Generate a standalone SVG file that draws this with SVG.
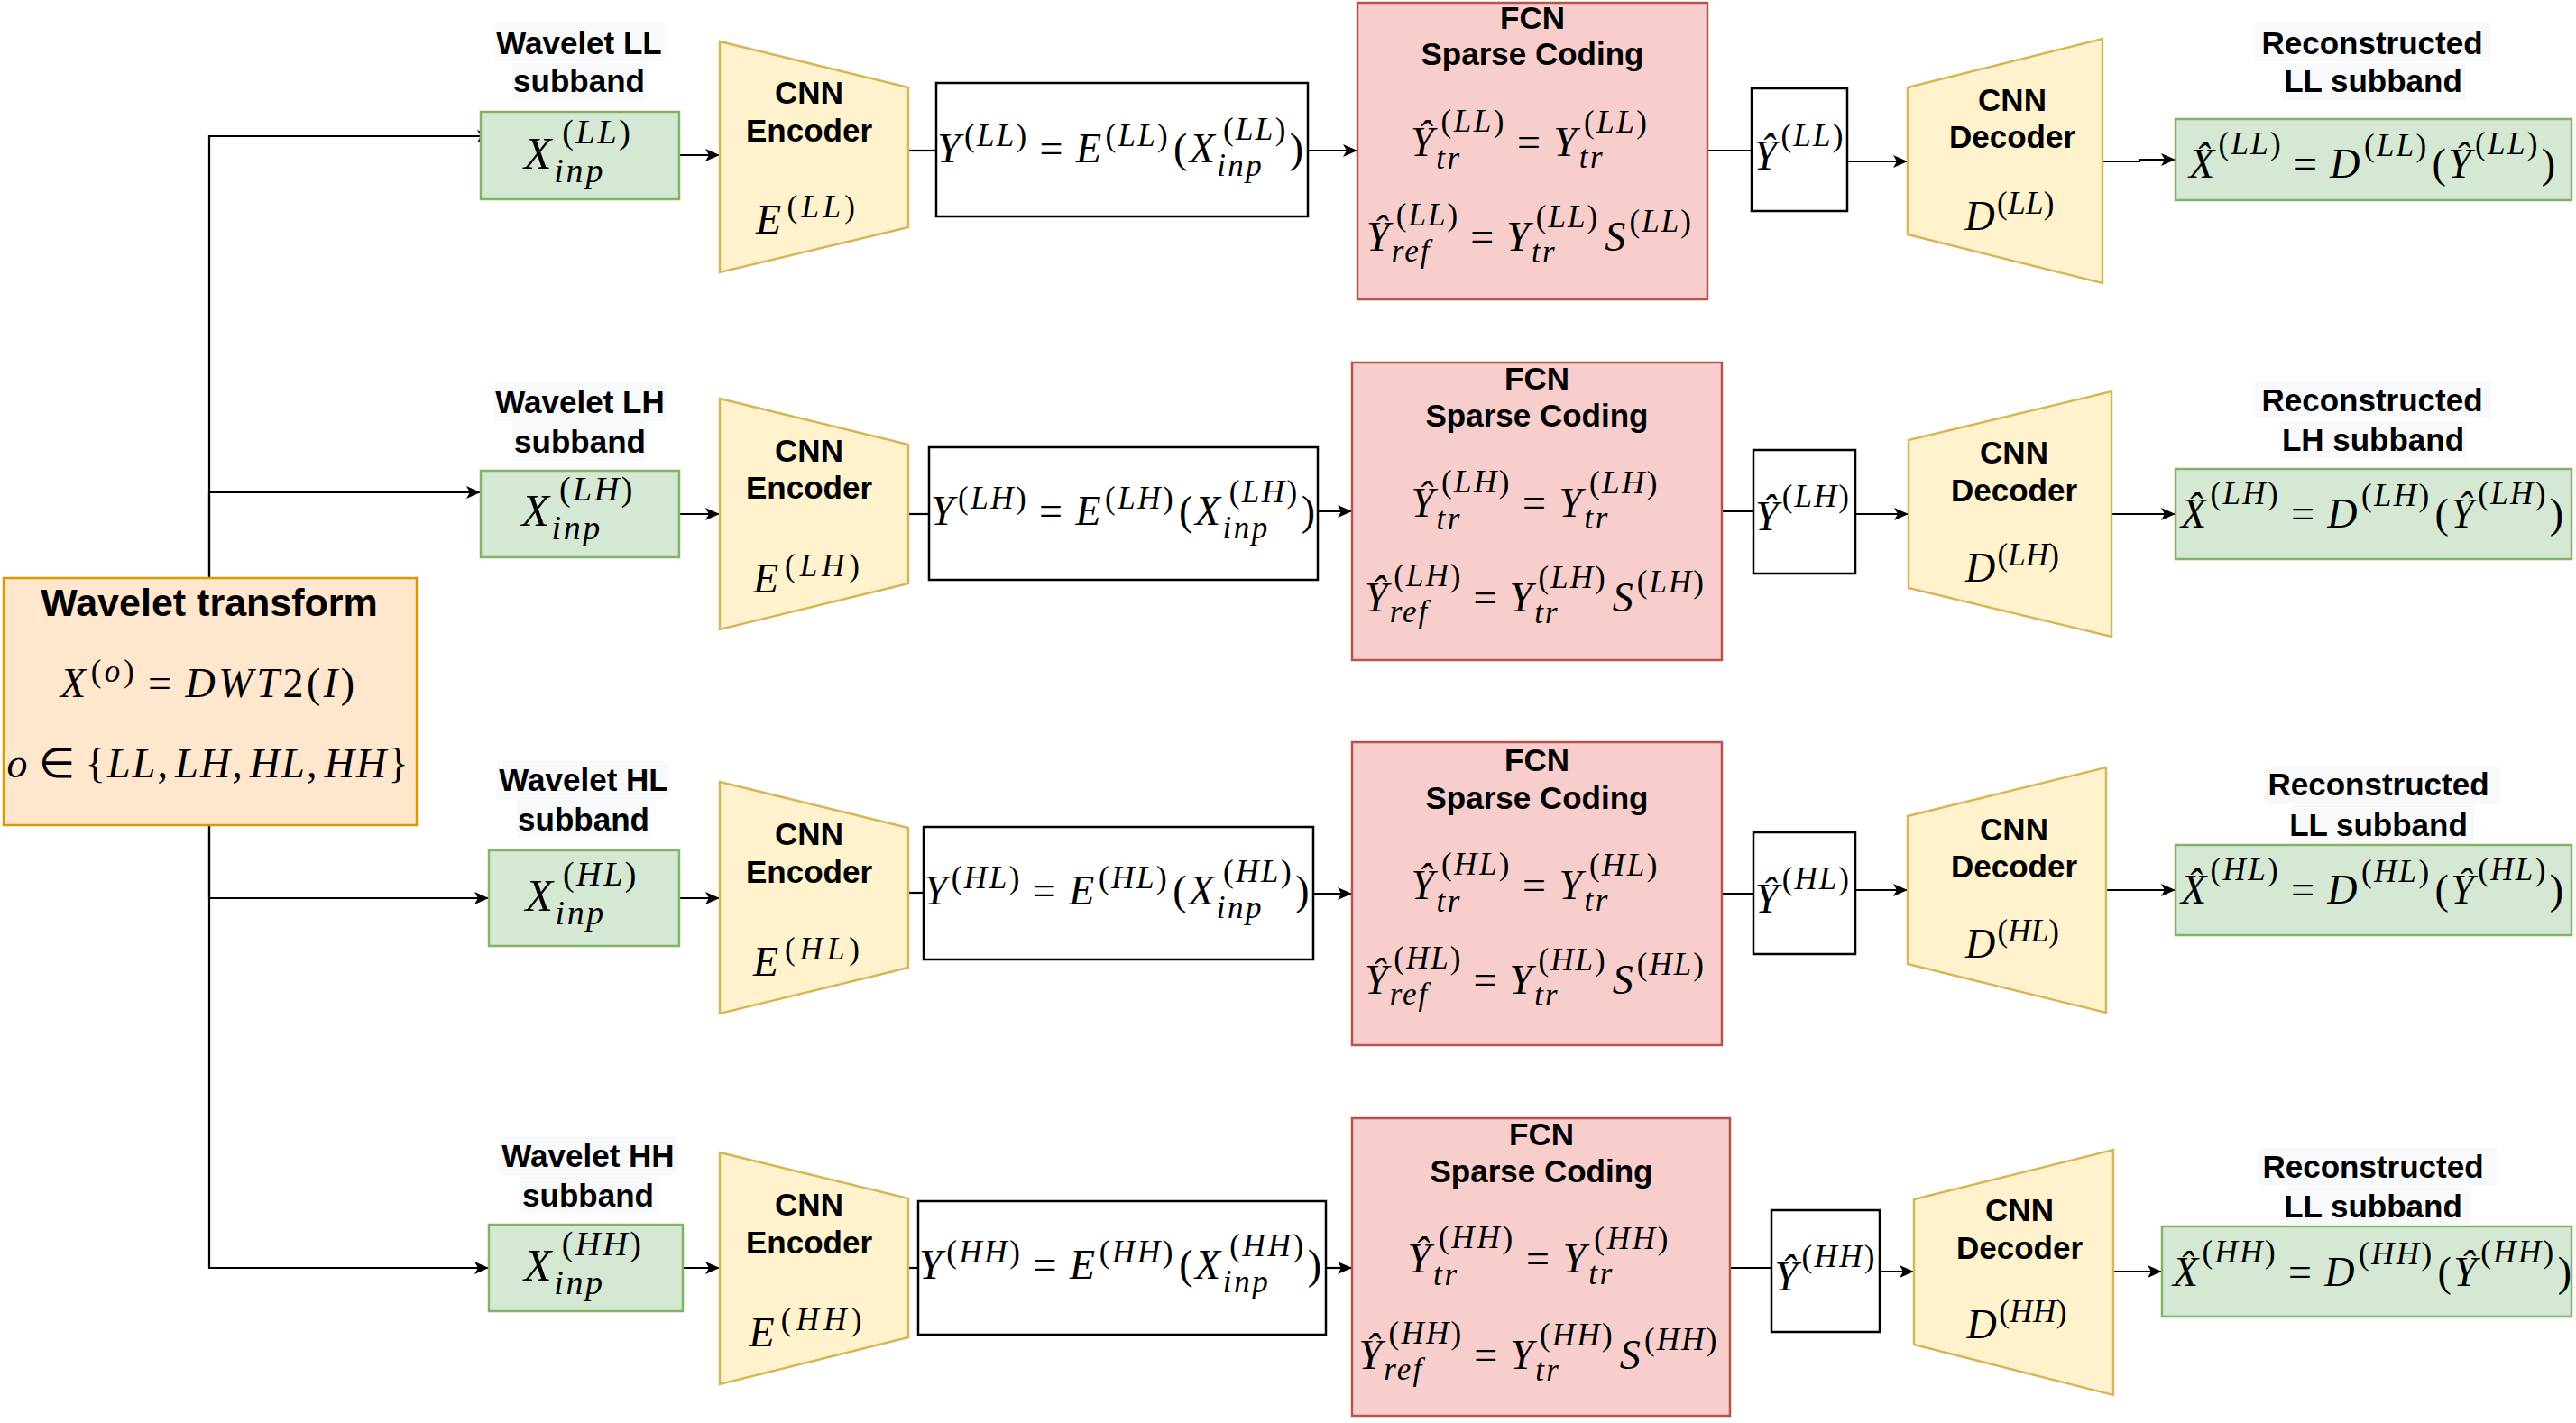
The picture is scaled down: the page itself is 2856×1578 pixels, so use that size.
<svg xmlns="http://www.w3.org/2000/svg" width="2856" height="1578" viewBox="0 0 2856 1578">
<defs>
<marker id="arr" markerUnits="userSpaceOnUse" markerWidth="18" markerHeight="16" refX="16" refY="7" orient="auto"><path d="M0,0 L16,7 L0,14 L4,7 Z" fill="#000"/></marker>
<style>
.conn{fill:none;stroke:#000;stroke-width:2.2}
.arrow{marker-end:url(#arr)}
.g{fill:#d5e8d4;stroke:#82b366;stroke-width:2.5}
.y{fill:#fff2cc;stroke:#d6b656;stroke-width:2.5}
.r{fill:#f8cecc;stroke:#b85450;stroke-width:2.5}
.o{fill:#ffe6cc;stroke:#d79b00;stroke-width:2.5}
.w{fill:#fff;stroke:#000;stroke-width:2.5}
.bg{fill:#f8f9fa}
.b{font-family:"Liberation Sans",Arial,sans-serif;font-weight:bold;font-size:35px;fill:#000;text-anchor:middle}
.t{font-size:43px}
.m{font-family:"Liberation Serif","Times New Roman",serif;font-size:46px;fill:#000;text-anchor:middle}
.mb{font-size:50px}
.i{font-style:italic}
.s{font-size:35px}
.sb{font-size:38px}
</style>
</defs>
<rect x="0" y="0" width="2856" height="1578" fill="#fff"/>

<g id="connectors" class="conn">
<path class="arrow" d="M232,641 V151 H545"/>
<path class="arrow" d="M232,641 V546 H533"/>
<path class="arrow" d="M232,915 V996 H542"/>
<path class="arrow" d="M232,915 V1406 H542"/>
<path class="arrow" d="M753,172 H798"/>
<path class="arrow" d="M753,570 H798"/>
<path class="arrow" d="M753,996 H798"/>
<path class="arrow" d="M757,1406 H798"/>
<path d="M1007,167 H1038"/>
<path d="M1007,570 H1030"/>
<path d="M1007,990 H1024"/>
<path d="M1007,1406 H1018"/>
<path class="arrow" d="M1450,167 H1505"/>
<path class="arrow" d="M1461,567 H1499"/>
<path class="arrow" d="M1456,991 H1499"/>
<path class="arrow" d="M1470,1406 H1499"/>
<path d="M1893,167 H1942"/>
<path d="M1909,567 H1944"/>
<path d="M1909,991 H1944"/>
<path d="M1918,1406 H1964"/>
<path class="arrow" d="M2048,179 H2115"/>
<path class="arrow" d="M2057,570 H2116"/>
<path class="arrow" d="M2057,987 H2115"/>
<path class="arrow" d="M2084,1410 H2122"/>
<path class="arrow" d="M2331,179 H2372 V177 H2412"/>
<path class="arrow" d="M2341,570 H2412"/>
<path class="arrow" d="M2335,987 H2412"/>
<path class="arrow" d="M2343,1410 H2397"/>
</g>

<g id="wavelet-transform">
<rect class="o" x="4" y="641" width="458" height="274"/>
<text class="b t" x="232" y="683">Wavelet transform</text>
<text class="m" x="230" y="773" textLength="326" lengthAdjust="spacing"><tspan class="i">X</tspan><tspan class="s" dx="2" dy="-17">(<tspan class="i">o</tspan>)</tspan><tspan dx="12" dy="17">=</tspan><tspan class="i" dx="12">DWT</tspan><tspan>2(</tspan><tspan class="i">I</tspan><tspan>)</tspan></text>
<text class="m" x="230" y="862" textLength="445" lengthAdjust="spacing"><tspan class="i">o</tspan><tspan dx="10">∈</tspan><tspan dx="10">{</tspan><tspan class="i">LL</tspan><tspan>,</tspan><tspan class="i" dx="6">LH</tspan><tspan>,</tspan><tspan class="i" dx="6">HL</tspan><tspan>,</tspan><tspan class="i" dx="6">HH</tspan><tspan>}</tspan></text>
</g>

<!-- Row LL -->
<g id="label-wavelet-ll"><rect class="bg" x="549" y="26" width="188" height="42"/><rect class="bg" x="568" y="70" width="149" height="41"/><text class="b" x="642" y="60">Wavelet LL</text><text class="b" x="642" y="102">subband</text></g>
<g id="input-ll"><rect class="g" x="533" y="124" width="220" height="97"/><text class="m mb" x="640" y="187" textLength="118" lengthAdjust="spacing"><tspan class="i">X</tspan><tspan class="sb i" dy="15">inp</tspan><tspan class="sb" dx="-48" dy="-43">(<tspan class="i">LL</tspan>)</tspan></text></g>
<g id="encoder-ll"><polygon class="y" points="798,46 1007,97 1007,252 798,302"/><text class="b" x="897" y="115">CNN</text><text class="b" x="897" y="157">Encoder</text><text class="m" x="893" y="259" textLength="110" lengthAdjust="spacing"><tspan class="i">E</tspan><tspan class="s" dx="2" dy="-18">(<tspan class="i">LL</tspan>)</tspan></text></g>
<g id="latent-ll"><rect class="w" x="1038" y="92" width="412" height="148"/><text class="m" x="1242" y="180" textLength="406" lengthAdjust="spacing"><tspan class="i">Y</tspan><tspan class="s" dx="2" dy="-18">(<tspan class="i">LL</tspan>)</tspan><tspan dx="12" dy="18">=</tspan><tspan class="i" dx="12">E</tspan><tspan class="s" dx="2" dy="-18">(<tspan class="i">LL</tspan>)</tspan><tspan dx="4" dy="18">(</tspan><tspan class="i">X</tspan><tspan class="s i" dy="15">inp</tspan><tspan class="s" dx="-45" dy="-40">(<tspan class="i">LL</tspan>)</tspan><tspan dx="2" dy="25">)</tspan></text></g>
<g id="fcn-ll"><rect class="r" x="1505" y="3" width="388" height="329"/><text class="b" x="1699" y="32">FCN</text><text class="b" x="1699" y="72">Sparse Coding</text><text class="m" x="1695" y="173" textLength="262" lengthAdjust="spacing"><tspan class="i">Ŷ</tspan><tspan class="s i" dy="14">tr</tspan><tspan class="s" dx="-23" dy="-41">(<tspan class="i">LL</tspan>)</tspan><tspan dx="12" dy="27">=</tspan><tspan class="i" dx="12">Y</tspan><tspan class="s i" dy="13">tr</tspan><tspan class="s" dx="-23" dy="-39">(<tspan class="i">LL</tspan>)</tspan></text><text class="m" x="1695" y="278" textLength="360" lengthAdjust="spacing"><tspan class="i">Ŷ</tspan><tspan class="s i" dy="12">ref</tspan><tspan class="s" dx="-39" dy="-40">(<tspan class="i">LL</tspan>)</tspan><tspan dx="12" dy="28">=</tspan><tspan class="i" dx="12">Y</tspan><tspan class="s i" dy="13">tr</tspan><tspan class="s" dx="-23" dy="-39">(<tspan class="i">LL</tspan>)</tspan><tspan class="i" dx="6" dy="26">S</tspan><tspan class="s" dx="2" dy="-21">(<tspan class="i">LL</tspan>)</tspan></text></g>
<g id="yhat-ll"><rect class="w" x="1942" y="98" width="106" height="136"/><text class="m" x="1994" y="188" textLength="99" lengthAdjust="spacing"><tspan class="i">Ŷ</tspan><tspan class="s" dx="2" dy="-26">(<tspan class="i">LL</tspan>)</tspan></text></g>
<g id="decoder-ll"><polygon class="y" points="2115,97 2331,43 2331,314 2115,260"/><text class="b" x="2231" y="123">CNN</text><text class="b" x="2231" y="164">Decoder</text><text class="m" x="2228" y="255" textLength="99" lengthAdjust="spacing"><tspan class="i">D</tspan><tspan class="s" dx="2" dy="-18">(<tspan class="i">LL</tspan>)</tspan></text></g>
<g id="label-recon-ll"><rect class="bg" x="2500" y="26" width="262" height="42"/><rect class="bg" x="2530" y="70" width="204" height="41"/><text class="b" x="2630" y="60">Reconstructed</text><text class="b" x="2631" y="102">LL subband</text></g>
<g id="output-ll"><rect class="g" x="2412" y="132" width="439" height="90"/><text class="m" x="2630" y="197" textLength="406" lengthAdjust="spacing"><tspan class="i">X&#x302;</tspan><tspan class="s" dx="2" dy="-26">(<tspan class="i">LL</tspan>)</tspan><tspan dx="12" dy="26">=</tspan><tspan class="i" dx="12">D</tspan><tspan class="s" dx="2" dy="-24">(<tspan class="i">LL</tspan>)</tspan><tspan dx="4" dy="24">(</tspan><tspan class="i">Ŷ</tspan><tspan class="s" dx="2" dy="-26">(<tspan class="i">LL</tspan>)</tspan><tspan dx="2" dy="26">)</tspan></text></g>

<!-- Row LH -->
<g id="label-wavelet-lh"><rect class="bg" x="547" y="425" width="191" height="42"/><rect class="bg" x="568" y="467" width="149" height="44"/><text class="b" x="643" y="458">Wavelet LH</text><text class="b" x="643" y="502">subband</text></g>
<g id="input-lh"><rect class="g" x="533" y="522" width="220" height="96"/><text class="m mb" x="640" y="583" textLength="123" lengthAdjust="spacing"><tspan class="i">X</tspan><tspan class="sb i" dy="15">inp</tspan><tspan class="sb" dx="-48" dy="-43">(<tspan class="i">LH</tspan>)</tspan></text></g>
<g id="encoder-lh"><polygon class="y" points="798,442 1007,493 1007,647 798,698"/><text class="b" x="897" y="512">CNN</text><text class="b" x="897" y="553">Encoder</text><text class="m" x="894" y="657" textLength="118" lengthAdjust="spacing"><tspan class="i">E</tspan><tspan class="s" dx="2" dy="-18">(<tspan class="i">LH</tspan>)</tspan></text></g>
<g id="latent-lh"><rect class="w" x="1030" y="496" width="431" height="147"/><text class="m" x="1245" y="582" textLength="426" lengthAdjust="spacing"><tspan class="i">Y</tspan><tspan class="s" dx="2" dy="-18">(<tspan class="i">LH</tspan>)</tspan><tspan dx="12" dy="18">=</tspan><tspan class="i" dx="12">E</tspan><tspan class="s" dx="2" dy="-18">(<tspan class="i">LH</tspan>)</tspan><tspan dx="4" dy="18">(</tspan><tspan class="i">X</tspan><tspan class="s i" dy="15">inp</tspan><tspan class="s" dx="-45" dy="-40">(<tspan class="i">LH</tspan>)</tspan><tspan dx="2" dy="25">)</tspan></text></g>
<g id="fcn-lh"><rect class="r" x="1499" y="402" width="410" height="330"/><text class="b" x="1704" y="432">FCN</text><text class="b" x="1704" y="473">Sparse Coding</text><text class="m" x="1701" y="573" textLength="273" lengthAdjust="spacing"><tspan class="i">Ŷ</tspan><tspan class="s i" dy="14">tr</tspan><tspan class="s" dx="-23" dy="-41">(<tspan class="i">LH</tspan>)</tspan><tspan dx="12" dy="27">=</tspan><tspan class="i" dx="12">Y</tspan><tspan class="s i" dy="13">tr</tspan><tspan class="s" dx="-23" dy="-39">(<tspan class="i">LH</tspan>)</tspan></text><text class="m" x="1701" y="678" textLength="376" lengthAdjust="spacing"><tspan class="i">Ŷ</tspan><tspan class="s i" dy="12">ref</tspan><tspan class="s" dx="-39" dy="-40">(<tspan class="i">LH</tspan>)</tspan><tspan dx="12" dy="28">=</tspan><tspan class="i" dx="12">Y</tspan><tspan class="s i" dy="13">tr</tspan><tspan class="s" dx="-23" dy="-39">(<tspan class="i">LH</tspan>)</tspan><tspan class="i" dx="6" dy="26">S</tspan><tspan class="s" dx="2" dy="-21">(<tspan class="i">LH</tspan>)</tspan></text></g>
<g id="yhat-lh"><rect class="w" x="1944" y="499" width="113" height="137"/><text class="m" x="1998" y="588" textLength="104" lengthAdjust="spacing"><tspan class="i">Ŷ</tspan><tspan class="s" dx="2" dy="-26">(<tspan class="i">LH</tspan>)</tspan></text></g>
<g id="decoder-lh"><polygon class="y" points="2116,488 2341,434 2341,706 2116,652"/><text class="b" x="2233" y="514">CNN</text><text class="b" x="2233" y="556">Decoder</text><text class="m" x="2231" y="645" textLength="104" lengthAdjust="spacing"><tspan class="i">D</tspan><tspan class="s" dx="2" dy="-18">(<tspan class="i">LH</tspan>)</tspan></text></g>
<g id="label-recon-lh"><rect class="bg" x="2500" y="423" width="262" height="41"/><rect class="bg" x="2528" y="467" width="207" height="41"/><text class="b" x="2630" y="456">Reconstructed</text><text class="b" x="2631" y="500">LH subband</text></g>
<g id="output-lh"><rect class="g" x="2412" y="520" width="439" height="100"/><text class="m" x="2630" y="585" textLength="424" lengthAdjust="spacing"><tspan class="i">X&#x302;</tspan><tspan class="s" dx="2" dy="-26">(<tspan class="i">LH</tspan>)</tspan><tspan dx="12" dy="26">=</tspan><tspan class="i" dx="12">D</tspan><tspan class="s" dx="2" dy="-24">(<tspan class="i">LH</tspan>)</tspan><tspan dx="4" dy="24">(</tspan><tspan class="i">Ŷ</tspan><tspan class="s" dx="2" dy="-26">(<tspan class="i">LH</tspan>)</tspan><tspan dx="2" dy="26">)</tspan></text></g>

<!-- Row HL -->
<g id="label-wavelet-hl"><rect class="bg" x="551" y="844" width="191" height="42"/><rect class="bg" x="573" y="887" width="147" height="42"/><text class="b" x="647" y="877">Wavelet HL</text><text class="b" x="647" y="921">subband</text></g>
<g id="input-hl"><rect class="g" x="542" y="943" width="211" height="106"/><text class="m mb" x="644" y="1010" textLength="123" lengthAdjust="spacing"><tspan class="i">X</tspan><tspan class="sb i" dy="15">inp</tspan><tspan class="sb" dx="-48" dy="-43">(<tspan class="i">HL</tspan>)</tspan></text></g>
<g id="encoder-hl"><polygon class="y" points="798,867 1007,918 1007,1073 798,1124"/><text class="b" x="897" y="937">CNN</text><text class="b" x="897" y="979">Encoder</text><text class="m" x="894" y="1082" textLength="118" lengthAdjust="spacing"><tspan class="i">E</tspan><tspan class="s" dx="2" dy="-18">(<tspan class="i">HL</tspan>)</tspan></text></g>
<g id="latent-hl"><rect class="w" x="1024" y="917" width="432" height="147"/><text class="m" x="1238" y="1003" textLength="427" lengthAdjust="spacing"><tspan class="i">Y</tspan><tspan class="s" dx="2" dy="-18">(<tspan class="i">HL</tspan>)</tspan><tspan dx="12" dy="18">=</tspan><tspan class="i" dx="12">E</tspan><tspan class="s" dx="2" dy="-18">(<tspan class="i">HL</tspan>)</tspan><tspan dx="4" dy="18">(</tspan><tspan class="i">X</tspan><tspan class="s i" dy="15">inp</tspan><tspan class="s" dx="-45" dy="-40">(<tspan class="i">HL</tspan>)</tspan><tspan dx="2" dy="25">)</tspan></text></g>
<g id="fcn-hl"><rect class="r" x="1499" y="823" width="410" height="336"/><text class="b" x="1704" y="855">FCN</text><text class="b" x="1704" y="897">Sparse Coding</text><text class="m" x="1701" y="997" textLength="273" lengthAdjust="spacing"><tspan class="i">Ŷ</tspan><tspan class="s i" dy="14">tr</tspan><tspan class="s" dx="-23" dy="-41">(<tspan class="i">HL</tspan>)</tspan><tspan dx="12" dy="27">=</tspan><tspan class="i" dx="12">Y</tspan><tspan class="s i" dy="13">tr</tspan><tspan class="s" dx="-23" dy="-39">(<tspan class="i">HL</tspan>)</tspan></text><text class="m" x="1701" y="1102" textLength="376" lengthAdjust="spacing"><tspan class="i">Ŷ</tspan><tspan class="s i" dy="12">ref</tspan><tspan class="s" dx="-39" dy="-40">(<tspan class="i">HL</tspan>)</tspan><tspan dx="12" dy="28">=</tspan><tspan class="i" dx="12">Y</tspan><tspan class="s i" dy="13">tr</tspan><tspan class="s" dx="-23" dy="-39">(<tspan class="i">HL</tspan>)</tspan><tspan class="i" dx="6" dy="26">S</tspan><tspan class="s" dx="2" dy="-21">(<tspan class="i">HL</tspan>)</tspan></text></g>
<g id="yhat-hl"><rect class="w" x="1944" y="923" width="113" height="135"/><text class="m" x="1998" y="1012" textLength="104" lengthAdjust="spacing"><tspan class="i">Ŷ</tspan><tspan class="s" dx="2" dy="-26">(<tspan class="i">HL</tspan>)</tspan></text></g>
<g id="decoder-hl"><polygon class="y" points="2115,905 2335,851 2335,1123 2115,1069"/><text class="b" x="2233" y="932">CNN</text><text class="b" x="2233" y="973">Decoder</text><text class="m" x="2231" y="1062" textLength="104" lengthAdjust="spacing"><tspan class="i">D</tspan><tspan class="s" dx="2" dy="-18">(<tspan class="i">HL</tspan>)</tspan></text></g>
<g id="label-recon-hl"><rect class="bg" x="2511" y="851" width="262" height="41"/><rect class="bg" x="2540" y="893" width="203" height="41"/><text class="b" x="2637" y="882">Reconstructed</text><text class="b" x="2637" y="927">LL subband</text></g>
<g id="output-hl"><rect class="g" x="2412" y="937" width="439" height="100"/><text class="m" x="2630" y="1002" textLength="424" lengthAdjust="spacing"><tspan class="i">X&#x302;</tspan><tspan class="s" dx="2" dy="-26">(<tspan class="i">HL</tspan>)</tspan><tspan dx="12" dy="26">=</tspan><tspan class="i" dx="12">D</tspan><tspan class="s" dx="2" dy="-24">(<tspan class="i">HL</tspan>)</tspan><tspan dx="4" dy="24">(</tspan><tspan class="i">Ŷ</tspan><tspan class="s" dx="2" dy="-26">(<tspan class="i">HL</tspan>)</tspan><tspan dx="2" dy="26">)</tspan></text></g>

<!-- Row HH -->
<g id="label-wavelet-hh"><rect class="bg" x="554" y="1261" width="197" height="42"/><rect class="bg" x="577" y="1305" width="151" height="41"/><text class="b" x="652" y="1294">Wavelet HH</text><text class="b" x="652" y="1338">subband</text></g>
<g id="input-hh"><rect class="g" x="542" y="1358" width="215" height="96"/><text class="m mb" x="646" y="1420" textLength="130" lengthAdjust="spacing"><tspan class="i">X</tspan><tspan class="sb i" dy="15">inp</tspan><tspan class="sb" dx="-48" dy="-43">(<tspan class="i">HH</tspan>)</tspan></text></g>
<g id="encoder-hh"><polygon class="y" points="798,1278 1007,1329 1007,1483 798,1535"/><text class="b" x="897" y="1348">CNN</text><text class="b" x="897" y="1390">Encoder</text><text class="m" x="893" y="1493" textLength="125" lengthAdjust="spacing"><tspan class="i">E</tspan><tspan class="s" dx="2" dy="-18">(<tspan class="i">HH</tspan>)</tspan></text></g>
<g id="latent-hh"><rect class="w" x="1018" y="1332" width="452" height="148"/><text class="m" x="1242" y="1418" textLength="446" lengthAdjust="spacing"><tspan class="i">Y</tspan><tspan class="s" dx="2" dy="-18">(<tspan class="i">HH</tspan>)</tspan><tspan dx="12" dy="18">=</tspan><tspan class="i" dx="12">E</tspan><tspan class="s" dx="2" dy="-18">(<tspan class="i">HH</tspan>)</tspan><tspan dx="4" dy="18">(</tspan><tspan class="i">X</tspan><tspan class="s i" dy="15">inp</tspan><tspan class="s" dx="-45" dy="-40">(<tspan class="i">HH</tspan>)</tspan><tspan dx="2" dy="25">)</tspan></text></g>
<g id="fcn-hh"><rect class="r" x="1499" y="1240" width="419" height="330"/><text class="b" x="1709" y="1270">FCN</text><text class="b" x="1709" y="1311">Sparse Coding</text><text class="m" x="1705" y="1411" textLength="289" lengthAdjust="spacing"><tspan class="i">Ŷ</tspan><tspan class="s i" dy="14">tr</tspan><tspan class="s" dx="-23" dy="-41">(<tspan class="i">HH</tspan>)</tspan><tspan dx="12" dy="27">=</tspan><tspan class="i" dx="12">Y</tspan><tspan class="s i" dy="13">tr</tspan><tspan class="s" dx="-23" dy="-39">(<tspan class="i">HH</tspan>)</tspan></text><text class="m" x="1705" y="1518" textLength="397" lengthAdjust="spacing"><tspan class="i">Ŷ</tspan><tspan class="s i" dy="12">ref</tspan><tspan class="s" dx="-39" dy="-40">(<tspan class="i">HH</tspan>)</tspan><tspan dx="12" dy="28">=</tspan><tspan class="i" dx="12">Y</tspan><tspan class="s i" dy="13">tr</tspan><tspan class="s" dx="-23" dy="-39">(<tspan class="i">HH</tspan>)</tspan><tspan class="i" dx="6" dy="26">S</tspan><tspan class="s" dx="2" dy="-21">(<tspan class="i">HH</tspan>)</tspan></text></g>
<g id="yhat-hh"><rect class="w" x="1964" y="1342" width="120" height="135"/><text class="m" x="2023" y="1431" textLength="111" lengthAdjust="spacing"><tspan class="i">Ŷ</tspan><tspan class="s" dx="2" dy="-26">(<tspan class="i">HH</tspan>)</tspan></text></g>
<g id="decoder-hh"><polygon class="y" points="2122,1330 2343,1275 2343,1547 2122,1491"/><text class="b" x="2239" y="1354">CNN</text><text class="b" x="2239" y="1396">Decoder</text><text class="m" x="2236" y="1484" textLength="111" lengthAdjust="spacing"><tspan class="i">D</tspan><tspan class="s" dx="2" dy="-18">(<tspan class="i">HH</tspan>)</tspan></text></g>
<g id="label-recon-hh"><rect class="bg" x="2504" y="1273" width="264" height="42"/><rect class="bg" x="2534" y="1317" width="204" height="41"/><text class="b" x="2631" y="1306">Reconstructed</text><text class="b" x="2631" y="1350">LL subband</text></g>
<g id="output-hh"><rect class="g" x="2397" y="1360" width="454" height="100"/><text class="m" x="2630" y="1426" textLength="442" lengthAdjust="spacing"><tspan class="i">X&#x302;</tspan><tspan class="s" dx="2" dy="-26">(<tspan class="i">HH</tspan>)</tspan><tspan dx="12" dy="26">=</tspan><tspan class="i" dx="12">D</tspan><tspan class="s" dx="2" dy="-24">(<tspan class="i">HH</tspan>)</tspan><tspan dx="4" dy="24">(</tspan><tspan class="i">Ŷ</tspan><tspan class="s" dx="2" dy="-26">(<tspan class="i">HH</tspan>)</tspan><tspan dx="2" dy="26">)</tspan></text></g>
</svg>
